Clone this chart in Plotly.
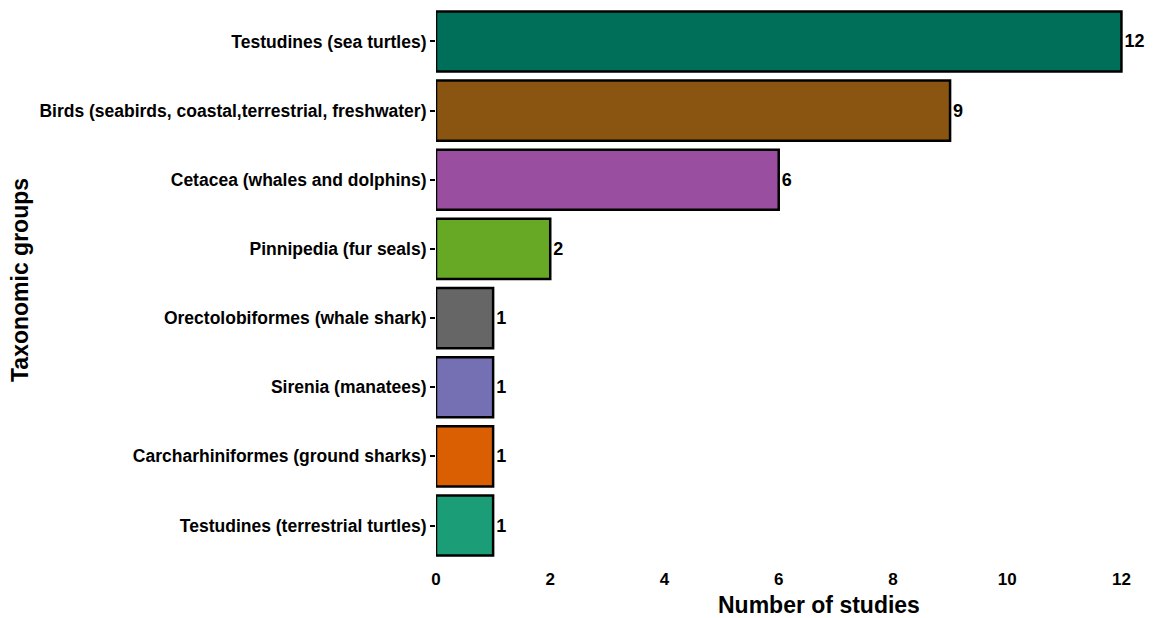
import plotly.graph_objects as go

categories = [
    "Testudines (sea turtles)",
    "Birds (seabirds, coastal,terrestrial, freshwater)",
    "Cetacea (whales and dolphins)",
    "Pinnipedia (fur seals)",
    "Orectolobiformes (whale shark)",
    "Sirenia (manatees)",
    "Carcharhiniformes (ground sharks)",
    "Testudines (terrestrial turtles)",
]
studies = [12, 9, 6, 2, 1, 1, 1, 1]
colors = ["#006F5A", "#8A5411", "#9A4E9F", "#67A825", "#666666", "#7570B3", "#D95F02", "#1B9E77"]
x_ticks = [0, 2, 4, 6, 8, 10, 12]

L, R, T, B = 436, 12, 0, 51
W, H = 1162, 618
plot_w = W - L - R
plot_h = H - T - B

fig = go.Figure(
    go.Bar(
        x=studies,
        y=categories,
        orientation="h",
        width=0.87,
        marker=dict(color=colors, line=dict(color="black", width=2.5)),
        text=[str(v) for v in studies],
        textposition="outside",
        textfont=dict(family="Liberation Sans, Arial", size=18, color="black", weight="bold"),
        cliponaxis=False,
        hoverinfo="skip",
    )
)

fig.update_layout(
    width=W,
    height=H,
    margin=dict(l=L, r=R, t=T, b=B, autoexpand=False),
    plot_bgcolor="white",
    paper_bgcolor="white",
    showlegend=False,
    font=dict(family="Liberation Sans, Arial", color="black"),
    xaxis=dict(
        range=[0, 12.5],
        tickvals=x_ticks,
        showgrid=False,
        zeroline=False,
        showline=False,
        ticks="",
        automargin=False,
        tickfont=dict(size=17, weight="bold", color="black"),
    ),
    yaxis=dict(
        range=[7.6, -0.6],
        showgrid=False,
        zeroline=False,
        showline=False,
        ticks="outside",
        ticklen=5,
        tickwidth=1.5,
        tickcolor="black",
        automargin=False,
        tickfont=dict(size=17.5, weight="bold", color="black"),
    ),
    annotations=[
        dict(text="Number of studies", x=(819 - L) / plot_w, y=(plot_h - 605) / plot_h,
             xref="paper", yref="paper", xanchor="center", yanchor="middle",
             showarrow=False, font=dict(size=23, weight="bold", color="black")),
        dict(text="Taxonomic groups", x=(20 - L) / plot_w, y=(plot_h - 280) / plot_h,
             xref="paper", yref="paper", xanchor="center", yanchor="middle",
             showarrow=False, textangle=-90,
             font=dict(size=23, weight="bold", color="black")),
    ],
)

fig.write_html(
    "out.html",
    config={"displayModeBar": False},
    post_script="document.body.style.margin='0px';document.body.style.padding='0px';",
)
